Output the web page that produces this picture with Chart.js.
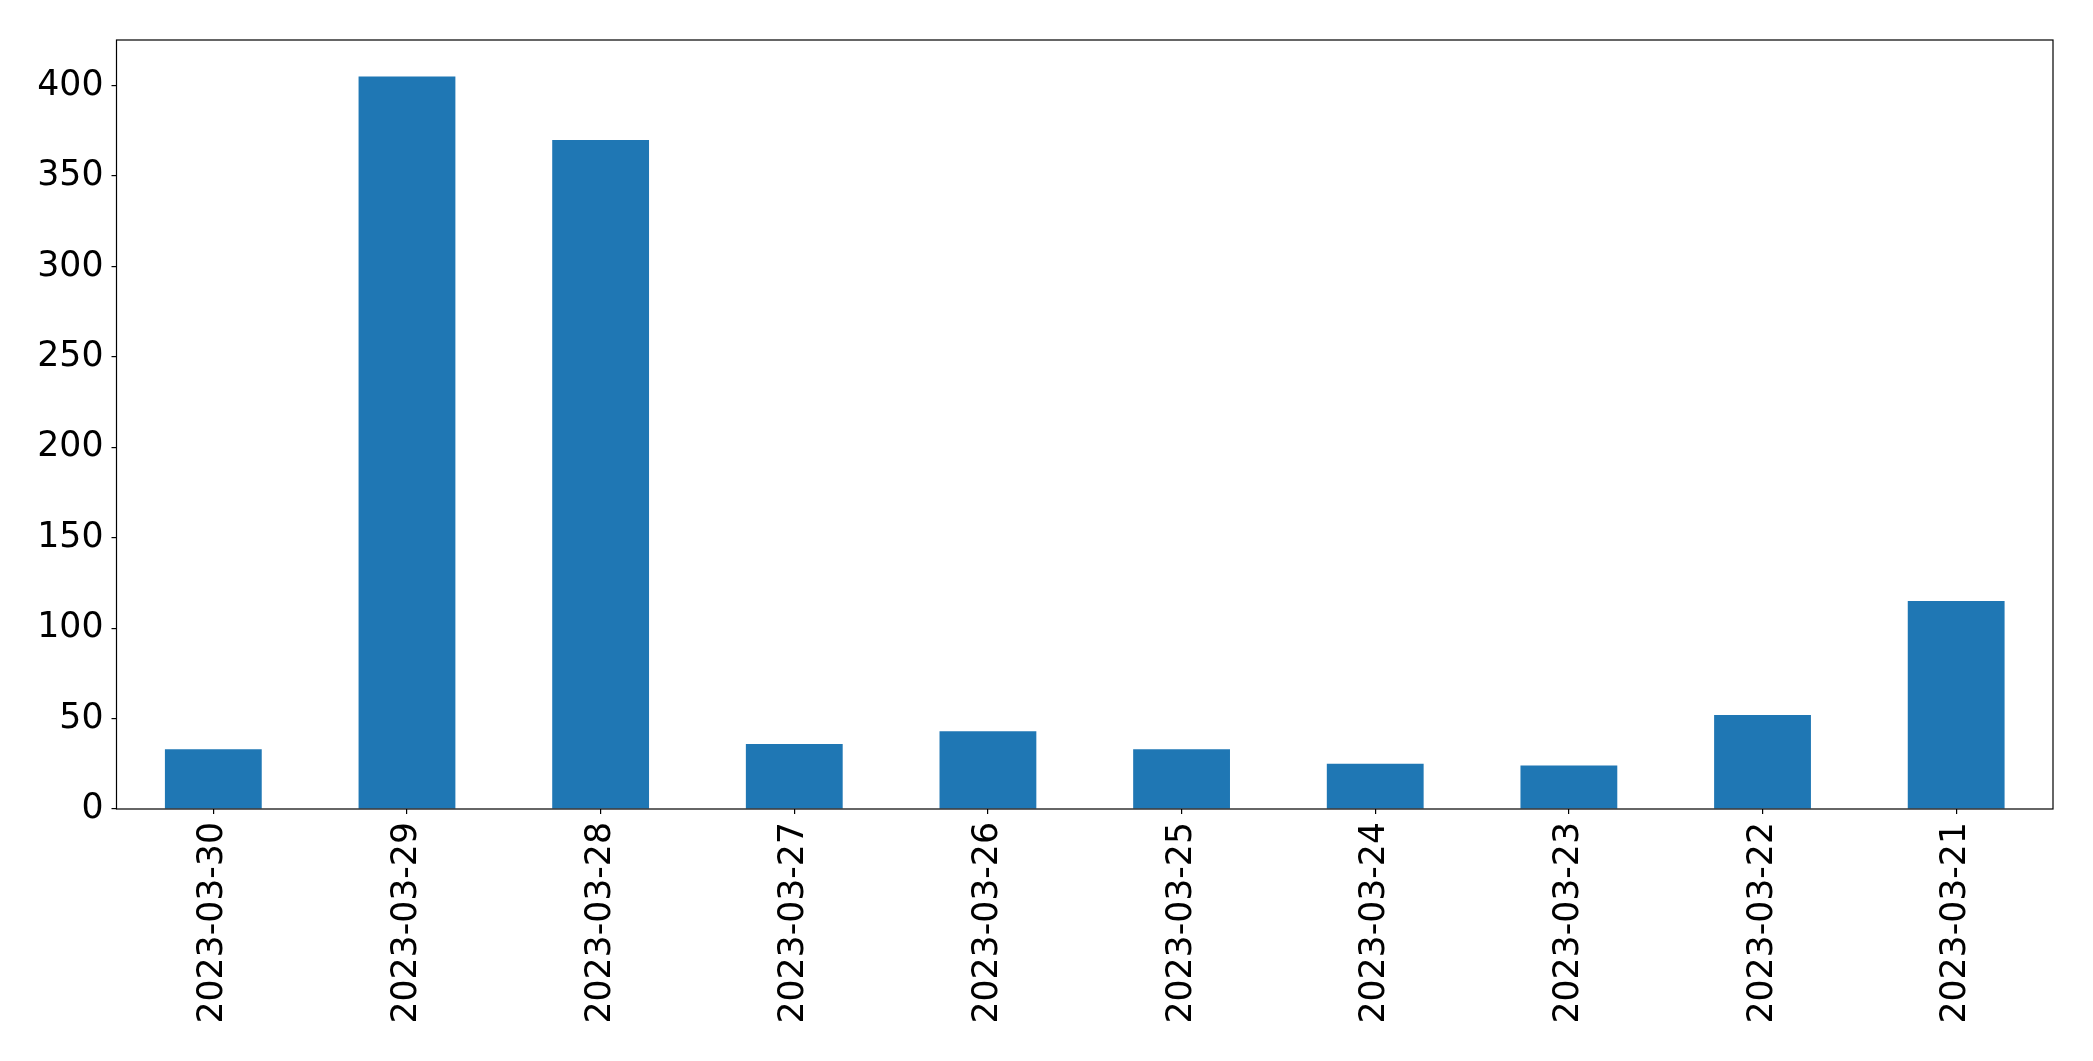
<!DOCTYPE html>
<html>
<head>
<meta charset="utf-8">
<script src="https://cdn.jsdelivr.net/npm/chart.js@4"></script>
<style>
  html, body { margin: 0; padding: 0; background: #fff; }
  #wrap { width: 2093px; height: 1061px; }
</style>
</head>
<body>
<div id="wrap"><canvas id="chart" width="2093" height="1061"></canvas></div>
<script>
const dates = [
  "2023-03-30", "2023-03-29", "2023-03-28", "2023-03-27", "2023-03-26",
  "2023-03-25", "2023-03-24", "2023-03-23", "2023-03-22", "2023-03-21",
];
const counts = [33, 405, 370, 36, 43, 33, 25, 24, 52, 115];
const yTicks = [0, 50, 100, 150, 200, 250, 300, 350, 400];

const ctx = document.getElementById("chart").getContext("2d");

// matplotlib-style box around the plot area
const frame = {
  id: "frame",
  afterDraw(chart) {
    const { ctx, chartArea: a } = chart;
    ctx.save();
    ctx.strokeStyle = "#000";
    ctx.lineWidth = 1.2;
    ctx.strokeRect(a.left, a.top, a.right - a.left, a.bottom - a.top);
    ctx.restore();
  },
};

new Chart(ctx, {
  type: "bar",
  data: {
    labels: dates,
    datasets: [{
      data: counts,
      backgroundColor: "#1f77b4",
      barPercentage: 0.5,
      categoryPercentage: 1.0,
    }],
  },
  plugins: [frame],
  options: {
    responsive: false,
    animation: false,
    layout: { padding: { top: 40, right: 40, left: 0, bottom: 0 } },
    plugins: { legend: { display: false }, tooltip: { enabled: false } },
    scales: {
      x: {
        offset: true,
        grid: { offset: false, drawOnChartArea: false, drawTicks: true, tickLength: 5, color: "#000", lineWidth: 1.2 },
        border: { display: false },
        ticks: {
          color: "#000",
          font: { family: "DejaVu Sans", size: 34.7 },
          minRotation: 90,
          maxRotation: 90,
          padding: 8,
          autoSkip: false,
        },
        afterFit: (s) => { s.height = 252; },
      },
      y: {
        min: 0,
        max: 425.25,
        afterBuildTicks: (s) => { s.ticks = yTicks.map((v) => ({ value: v })); },
        grid: { drawOnChartArea: false, drawTicks: true, tickLength: 5, color: "#000", lineWidth: 1.2 },
        border: { display: false },
        ticks: {
          color: "#000",
          font: { family: "DejaVu Sans", size: 34.7 },
          padding: 8,
        },
        afterFit: (s) => { s.width = 116.5; },
      },
    },
  },
});
</script>
</body>
</html>
